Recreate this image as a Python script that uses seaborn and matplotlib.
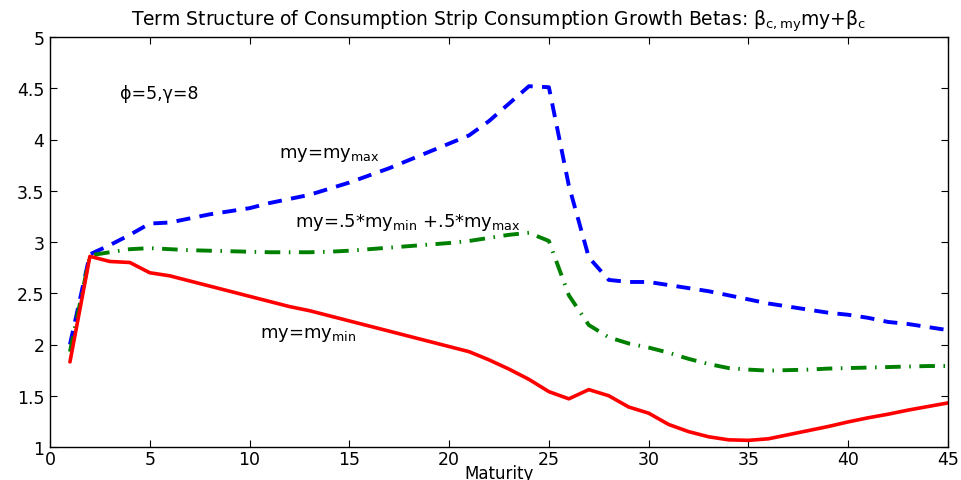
import numpy as np
import pandas as pd
import matplotlib
matplotlib.use("Agg")
import matplotlib.pyplot as plt
import seaborn as sns

maturity = list(range(1, 46))
beta_max = [2.00, 2.88, 2.97, 3.07, 3.18, 3.19, 3.23, 3.27, 3.30, 3.33,
            3.38, 3.42, 3.46, 3.52, 3.58, 3.65, 3.72, 3.80, 3.88, 3.96,
            4.04, 4.18, 4.35, 4.52, 4.51, 3.55, 2.85, 2.63, 2.61, 2.61,
            2.58, 2.55, 2.52, 2.48, 2.44, 2.40, 2.37, 2.34, 2.31, 2.29,
            2.26, 2.22, 2.20, 2.17, 2.14]
beta_mid = [1.93, 2.87, 2.90, 2.93, 2.94, 2.93, 2.92, 2.915, 2.91, 2.905,
            2.90, 2.90, 2.90, 2.905, 2.915, 2.93, 2.945, 2.96, 2.975, 2.99,
            3.01, 3.04, 3.07, 3.09, 3.01, 2.48, 2.19, 2.07, 2.01, 1.97,
            1.92, 1.86, 1.81, 1.77, 1.755, 1.745, 1.75, 1.755, 1.765, 1.77,
            1.775, 1.78, 1.785, 1.79, 1.79]
beta_min = [1.83, 2.86, 2.81, 2.80, 2.70, 2.67, 2.62, 2.57, 2.52, 2.47,
            2.42, 2.37, 2.33, 2.28, 2.23, 2.18, 2.13, 2.08, 2.03, 1.98,
            1.93, 1.85, 1.76, 1.66, 1.54, 1.47, 1.56, 1.50, 1.39, 1.33,
            1.22, 1.15, 1.10, 1.07, 1.065, 1.08, 1.12, 1.16, 1.20, 1.245,
            1.285, 1.32, 1.36, 1.395, 1.43]

ytick_vals = [1, 1.5, 2, 2.5, 3, 3.5, 4, 4.5, 5]
ytick_labels = ['1', '1.5', '2', '2.5', '3', '3.5', '4', '4.5', '5']
xtick_vals = list(range(0, 46, 5))

sns.set_style("white")
plt.rcParams['font.family'] = ['DejaVu Sans']
plt.rcParams['mathtext.fontset'] = 'dejavusans'
plt.rcParams['text.color'] = 'black'
plt.rcParams['axes.labelcolor'] = 'black'
plt.rcParams['xtick.color'] = 'black'
plt.rcParams['ytick.color'] = 'black'

df = pd.DataFrame({"Maturity": maturity, "max": beta_max,
                   "mid": beta_mid, "min": beta_min})

fig = plt.figure(figsize=(9.61, 4.81), dpi=100)
ax = fig.add_axes([50/961, 33/481, 898/961, 410/481])

sns.lineplot(data=df, x="Maturity", y="max", ax=ax, color=(0, 0, 1),
             linewidth=2.8, linestyle=(0, (3.6, 2.4)))
sns.lineplot(data=df, x="Maturity", y="mid", ax=ax, color=(0, 0.5, 0),
             linewidth=2.8, linestyle=(0, (4, 2.2, 0.4, 2.2)))
sns.lineplot(data=df, x="Maturity", y="min", ax=ax, color=(1, 0, 0),
             linewidth=2.6, linestyle='-')

ax.set_xlim(0, 45)
ax.set_ylim(1, 5)
ax.set_xticks(xtick_vals)
ax.set_yticks(ytick_vals)
ax.set_yticklabels(ytick_labels)
ax.tick_params(direction='in', length=5, width=0.8, labelsize=12.5,
               top=True, right=True, bottom=True, left=True, pad=4)
ax.tick_params(axis='x', pad=2)
for s in ax.spines.values():
    s.set_visible(True)
    s.set_color('black')
    s.set_linewidth(1.0)
ax.set_xlabel("Maturity", fontsize=12, labelpad=-3)
ax.set_ylabel("")

ax.set_title(r"Term Structure of Consumption Strip Consumption Growth Betas: "
             r"β$_{\mathrm{c,my}}$my+β$_{\mathrm{c}}$",
             fontsize=13.5, pad=9)

ax.text(3.5, 4.40, "ϕ=5,γ=8", fontsize=12.5, ha='left', va='baseline')
ax.text(11.5, 3.83, r"my=my$_{\mathrm{max}}$", fontsize=13, ha='left', va='baseline')
ax.text(12.3, 3.16, r"my=.5*my$_{\mathrm{min}}$ +.5*my$_{\mathrm{max}}$",
        fontsize=13, ha='left', va='baseline')
ax.text(10.5, 2.07, r"my=my$_{\mathrm{min}}$", fontsize=13, ha='left', va='baseline')

fig.savefig("out.png", dpi=100)
